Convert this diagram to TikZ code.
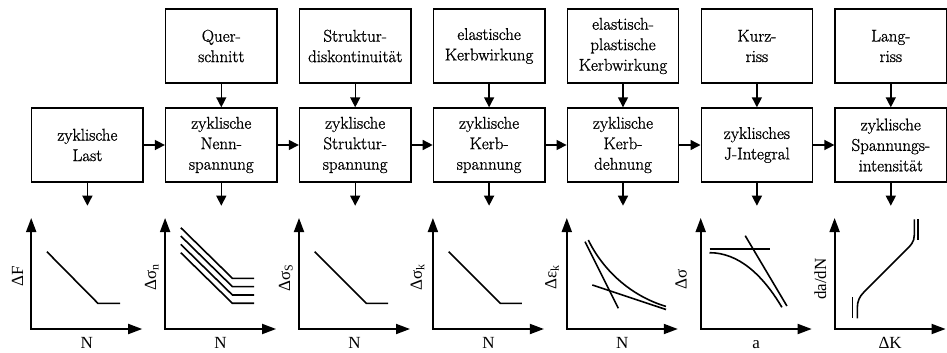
\documentclass[tikz,border=0pt]{standalone}
\usepackage{fontspec}
\newfontfamily\labfont{Liberation Serif}
\newfontfamily\boxfont{Latin Modern Roman}[FakeBold=1]
\usetikzlibrary{arrows.meta}
\begin{document}
\begin{tikzpicture}[x=1pt,y=-1pt,
  box/.style={draw, line width=1.4pt, minimum width=111.4pt, minimum height=74pt,
    inner sep=0pt, align=center, font=\boxfont\fontsize{17}{20.5}\selectfont},
  arr/.style={line width=1.4pt, -{Triangle[length=10pt,width=10pt]}},
  ax/.style={line width=1.8pt, line join=miter,
    {Triangle[length=14pt,width=10pt]}-{Triangle[length=14pt,width=10pt]}},
  crv/.style={line width=1.6pt},
  lab/.style={font=\labfont\fontsize{17}{20}\selectfont, inner sep=0pt}]
\useasboundingbox (0,0) rectangle (947,353);

% middle row
\node[box] (m1) at (87.4,145) {zyklische\\Last};
\node[box] (m2) at (221.3,145) {zyklische\\Nenn-\\spannung};
\node[box] (m3) at (355.2,145) {zyklische\\Struktur-\\spannung};
\node[box] (m4) at (489.1,145) {zyklische\\Kerb-\\spannung};
\node[box] (m5) at (623.0,145) {zyklische\\Kerb-\\dehnung};
\node[box] (m6) at (756.9,145) {zyklisches\\J-Integral};
\node[box] (m7) at (890.8,145) {zyklische\\Spannungs-\\intensität};
% top row
\node[box] (t2) at (221.3,46) {Quer-\\schnitt};
\node[box] (t3) at (355.2,46) {Struktur-\\diskontinuität};
\node[box] (t4) at (489.1,46) {elastische\\Kerbwirkung};
\node[box] (t5) at (623.0,46) {elastisch-\\plastische\\Kerbwirkung};
\node[box] (t6) at (756.9,46) {Kurz-\\riss};
\node[box] (t7) at (890.8,46) {Lang-\\riss};

\foreach \i in {2,...,7} { \draw[arr] (t\i) -- (m\i); }
\foreach \i/\j in {1/2,2/3,3/4,4/5,5/6,6/7} { \draw[arr] (m\i) -- (m\j); }
\foreach \i in {1,...,7} {
  \path (m\i.south) ++(0,23) coordinate (e\i);
  \draw[arr] (m\i.south) -- (e\i);
}

% plot 1
\begin{scope}[shift={(31.2,0)}]
  \coordinate (y1) at (0,218); \coordinate (o1) at (0,329); \coordinate (x1) at (111,329);
  \draw[ax] (y1) -- (o1) -- (x1);
  \draw[crv] (15.7,251.7) -- (66.7,303.3) -- (89,303.3);
  \node[lab, rotate=90, anchor=base] (ly1) at (-8,276) {ΔF};
  \node[lab, anchor=base] (lx1) at (55.5,348.3) {N};
\end{scope}
% plot 2
\begin{scope}[shift={(165.1,0)}]
  \coordinate (y2) at (0,218); \coordinate (o2) at (0,329); \coordinate (x2) at (111,329);
  \draw[ax] (y2) -- (o2) -- (x2);
  \foreach \k in {0,...,3} {
    \draw[crv] (15.7,{227.7+8.33*\k}) -- (67.3,{278.3+8.33*\k}) -- (89,{278.3+8.33*\k});
  }
  \node[lab, rotate=90, anchor=base] (ly2) at (-9,277) {Δσ\textsubscript{n}};
  \node[lab, anchor=base] (lx2) at (55.5,348.3) {N};
\end{scope}
% plot 3
\begin{scope}[shift={(299.0,0)}]
  \coordinate (y3) at (0,218); \coordinate (o3) at (0,329); \coordinate (x3) at (111,329);
  \draw[ax] (y3) -- (o3) -- (x3);
  \draw[crv] (15.7,251.7) -- (67.3,303.3) -- (89,303.3);
  \node[lab, rotate=90, anchor=base] (ly3) at (-9,277.5) {Δσ\textsubscript{S}};
  \node[lab, anchor=base] (lx3) at (55.5,348.3) {N};
\end{scope}
% plot 4
\begin{scope}[shift={(432.9,0)}]
  \coordinate (y4) at (0,218); \coordinate (o4) at (0,329); \coordinate (x4) at (111,329);
  \draw[ax] (y4) -- (o4) -- (x4);
  \draw[crv] (15.7,251.7) -- (67.3,303.3) -- (89,303.3);
  \node[lab, rotate=90, anchor=base] (ly4) at (-11,277.5) {Δσ\textsubscript{k}};
  \node[lab, anchor=base] (lx4) at (55.5,348.3) {N};
\end{scope}
% plot 5
\begin{scope}[shift={(566.8,0)}]
  \coordinate (y5) at (0,218); \coordinate (o5) at (0,329); \coordinate (x5) at (111,329);
  \draw[ax] (y5) -- (o5) -- (x5);
  \draw[crv] (18.2,241.7) -- (51.5,308.3);
  \draw[crv] (25.5,285) -- (99.2,309.5);
  \draw[crv] (21.5,240) .. controls (36,270) and (64,296) .. (99.2,306.4);
  \node[lab, rotate=90, anchor=base] (ly5) at (-10.5,277.5) {Δε\textsubscript{k}};
  \node[lab, anchor=base] (lx5) at (55.5,348.3) {N};
\end{scope}
% plot 6
\begin{scope}[shift={(700.7,0)}]
  \coordinate (y6) at (0,218); \coordinate (o6) at (0,329); \coordinate (x6) at (111,329);
  \draw[ax] (y6) -- (o6) -- (x6);
  \draw[crv] (8.8,249) -- (69.5,249);
  \draw[crv] (44.5,235.7) -- (86.2,306);
  \draw[crv] (8.8,252.7) .. controls (38,252.7) and (62,275) .. (81.2,307.3);
  \node[lab, rotate=90, anchor=base] (ly6) at (-14,279) {Δσ};
  \node[lab, anchor=base] (lx6) at (55.5,348.3) {a};
\end{scope}
% plot 7
\begin{scope}[shift={(834.6,0)}]
  \coordinate (y7) at (0,218); \coordinate (o7) at (0,329); \coordinate (x7) at (111,329);
  \draw[ax] (y7) -- (o7) -- (x7);
  \draw[crv] (17.7,297.3) -- (17.7,318.3);
  \draw[crv] (83.1,219.3) -- (83.1,240);
  \draw[crv] (22.7,318.3) -- (22.7,308) .. controls (22.7,301) and (25,296.5) .. (29,292.5)
     -- (72,249.5) .. controls (76,245.5) and (79.7,242) .. (79.7,235) -- (79.7,219.3);
  \node[lab, rotate=90, anchor=base] (ly7) at (-8.5,279) {da/dN};
  \node[lab, anchor=base] (lx7) at (55.5,348.3) {ΔK};
\end{scope}
\end{tikzpicture}
\end{document}
